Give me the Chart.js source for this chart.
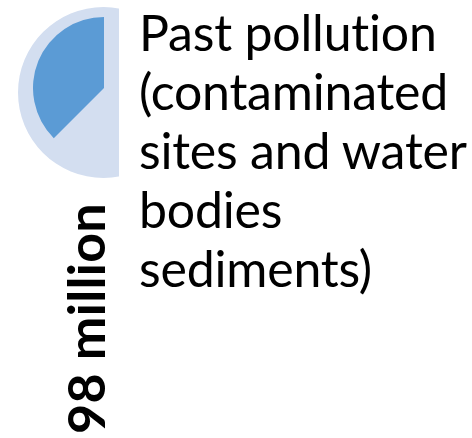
<!DOCTYPE html>
<html>
<head>
<meta charset="utf-8">
<script src="https://cdn.jsdelivr.net/npm/chart.js@4/dist/chart.umd.min.js"></script>
<style>
  html, body { margin: 0; padding: 0; background: #fff; }
  body { width: 472px; height: 438px; position: relative; overflow: hidden; }
  #pieBox { position: absolute; left: 0; top: 0; width: 119px; height: 190px; overflow: hidden; }
  #totalWrap { position: absolute; left: 18px; top: 7px; width: 171px; height: 171px; }
  #shareWrap { position: absolute; left: 33px; top: 17px; width: 142px; height: 142px; }
  #amount {
    position: absolute; left: 59px; top: 434px;
    transform-origin: left top; transform: rotate(-90deg);
    font: bold 52px Lato, sans-serif; line-height: 52px; white-space: nowrap; color: #000;
    font-variant-ligatures: none; letter-spacing: 0.3px;
  }
  #label {
    position: absolute; left: 139px; top: 3px;
    font: 50px Lato, sans-serif; line-height: 59px; white-space: nowrap; color: #000;
    font-variant-ligatures: none; letter-spacing: -0.2px;
  }
</style>
</head>
<body>
<div id="pieBox">
  <div id="totalWrap"><canvas id="totalPie" width="171" height="171"></canvas></div>
  <div id="shareWrap"><canvas id="sharePie" width="142" height="142"></canvas></div>
</div>
<div id="amount"></div>
<div id="label"></div>
<script>
// values
const categories = ['Other', 'Past pollution'];
const totalValues = [100];
const shareValues = [62.5, 37.5];
const amountText = '98 million';
const labelLines = ['Past pollution', '(contaminated', 'sites and water', 'bodies', 'sediments)'];

const lightBlue = '#D3DEF0';
const darkBlue = '#5B9BD5';

document.querySelector('#amount').textContent = amountText;
document.querySelector('#label').innerHTML = labelLines.join('<br>');

const baseOptions = {
  responsive: false,
  animation: false,
  events: [],
  layout: { padding: 0 },
  plugins: { legend: { display: false }, tooltip: { enabled: false } }
};

// light disk = the whole
new Chart('totalPie', {
  type: 'pie',
  data: {
    labels: ['Total'],
    datasets: [{ data: totalValues, backgroundColor: [lightBlue], borderWidth: 0 }]
  },
  options: baseOptions
});

// dark slice = the share, rest left see-through
new Chart('sharePie', {
  type: 'pie',
  data: {
    labels: categories,
    datasets: [{ data: shareValues, backgroundColor: ['rgba(0,0,0,0)', darkBlue], borderWidth: 0 }]
  },
  options: baseOptions
});
</script>
</body>
</html>
